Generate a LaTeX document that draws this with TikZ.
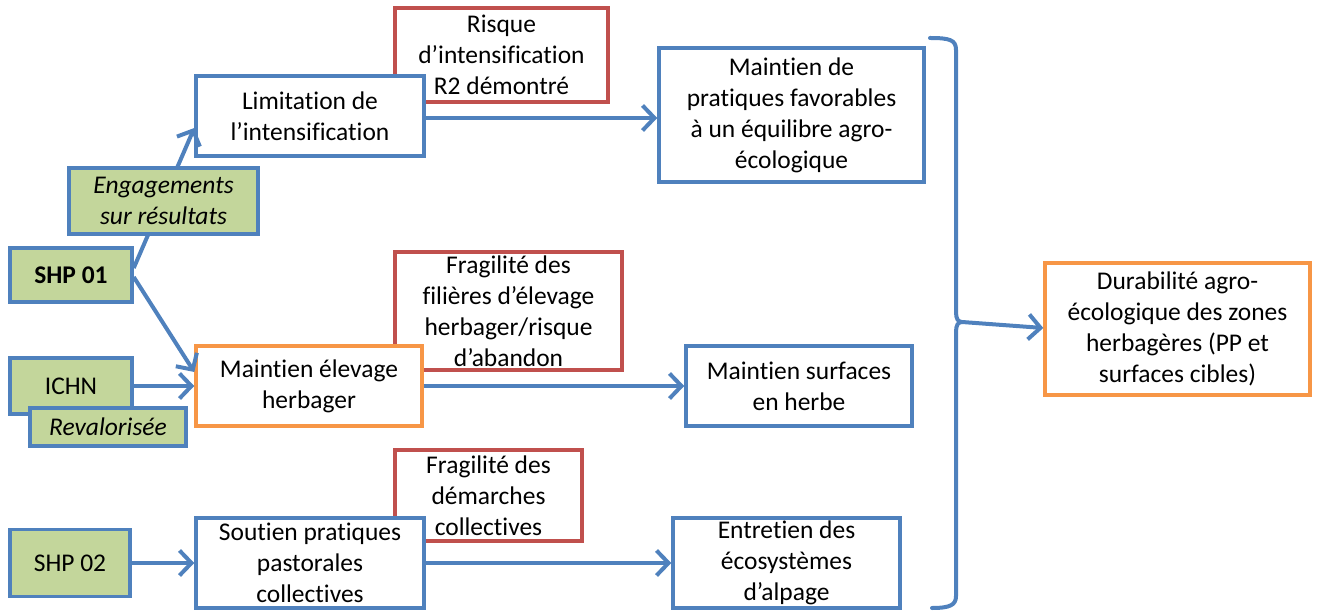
\documentclass[tikz,border=0pt]{standalone}
\usepackage{fontspec}
\setmainfont[Ligatures={NoCommon,NoContextual}, RawFeature={-clig;-calt;-dlig}]{Carlito}
\usepackage{xcolor}
\usetikzlibrary{arrows.meta, positioning, calc}
\definecolor{boxblue}{RGB}{79,129,189}
\definecolor{boxred}{RGB}{192,80,77}
\definecolor{boxorange}{RGB}{247,150,70}
\definecolor{boxgreen}{RGB}{195,214,155}

\begin{document}
\begin{tikzpicture}[x=0.02cm, y=-0.02cm,
    font=\fontsize{14.5}{17.6}\selectfont,
    box/.style={draw=boxblue, line width=0.07cm, fill=white, align=center, inner sep=1pt},
    riskbox/.style={box, draw=boxred},
    goalbox/.style={box, draw=boxorange},
    aidbox/.style={box, fill=boxgreen},
    flow/.style={draw=boxblue, line width=0.08cm, -{Straight Barb[length=0.24cm, width=0.5cm]}}]
  \useasboundingbox (0,0) rectangle (1317,614);

  % risques
  \node[riskbox, minimum width=4.26cm, minimum height=1.88cm] (risk1) at (501.5,55)
    {Risque\\d’intensification\\R2 démontré};
  \node[riskbox, minimum width=4.54cm, minimum height=2.36cm] (risk2) at (508.5,311)
    {Fragilité des\\filières d’élevage\\herbager/risque\\d’abandon};
  \node[riskbox, minimum width=3.74cm, minimum height=1.82cm] (risk3) at (488.5,495.5)
    {Fragilité des\\démarches\\collectives};

  % dispositifs
  \node[aidbox, minimum width=2.44cm, minimum height=1.08cm] (shp1) at (71,275) {\bfseries SHP 01};
  \node[aidbox, minimum width=2.44cm, minimum height=1.12cm] (ichn) at (71,386) {ICHN};
  \node[aidbox, minimum width=3.12cm, minimum height=0.76cm] (reval) at (108,427) {\itshape Revalorisée};
  \node[aidbox, minimum width=2.40cm, minimum height=1.34cm] (shp2) at (70,563) {SHP 02};

  % effets
  \node[box, minimum width=4.56cm, minimum height=1.60cm] (limit) at (310,116)
    {Limitation de\\l’intensification};
  \node[goalbox, minimum width=4.52cm, minimum height=1.60cm] (elevage) at (309,386)
    {Maintien élevage\\herbager};
  \node[box, minimum width=4.56cm, minimum height=1.80cm] (soutien) at (310,563)
    {Soutien pratiques\\pastorales\\collectives};

  \node[box, minimum width=5.30cm, minimum height=2.68cm] (pratiques) at (791.5,115)
    {Maintien de\\pratiques favorables\\à un équilibre agro-\\écologique};
  \node[box, minimum width=4.52cm, minimum height=1.60cm] (surfaces) at (799,386)
    {Maintien surfaces\\en herbe};
  \node[box, minimum width=4.54cm, minimum height=1.80cm] (entretien) at (786.5,563)
    {Entretien des\\écosystèmes\\d’alpage};

  \node[goalbox, minimum width=5.30cm, minimum height=2.64cm] (durab) at (1177.5,329)
    {Durabilité agro-\\écologique des zones\\herbagères (PP et\\surfaces cibles)};

  % fleches
  \draw[flow] ($(shp1.east)+(0,-7)$) -- ($(limit.west)+(0,12)$);
  \draw[flow] ($(shp1.east)+(0,2)$) -- ($(elevage.west)+(0,-14)$);
  \draw[flow] (ichn.east) -- (elevage.west);
  \draw[flow] (shp2.east) -- (soutien.west);
  \draw[flow] ($(limit.east)+(0,2)$) -- ($(pratiques.west)+(0,3)$);
  \draw[flow] (elevage.east) -- (surfaces.west);
  \draw[flow] (soutien.east) -- (entretien.west);

  % accolade
  \coordinate (tip) at (962,322);
  \draw[boxblue, line width=0.08cm, line cap=round]
    (930,38) .. controls (950,38) and (956,40) .. (956,50) -- (956,312)
    .. controls (956,319) and (958,322) .. (tip)
    .. controls (958,322) and (956,325) .. (956,332) -- (956,596)
    .. controls (956,605) and (950,608) .. (932,608);
  \draw[flow] (tip) -- ($(durab.west)+(0,-1)$);

  % par-dessus la fleche
  \node[aidbox, minimum width=3.78cm, minimum height=1.32cm] (engag) at (163.5,201)
    {\itshape Engagements\\\itshape sur résultats};
\end{tikzpicture}
\end{document}
